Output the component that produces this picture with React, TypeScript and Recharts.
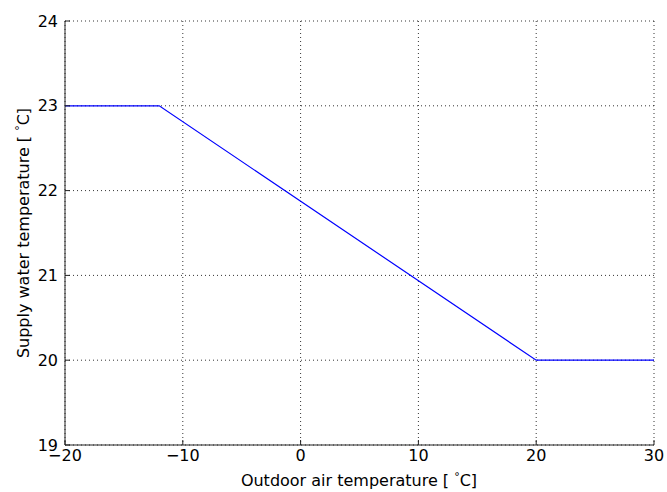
import { CartesianGrid, Label, Line, LineChart, XAxis, YAxis } from 'recharts';

const outdoorTemp = [-20, -12, 20, 30];
const supplyTemp = [23, 23, 20, 20];
const xTicks = [-20, -10, 0, 10, 20, 30];
const yTicks = [19, 20, 21, 22, 23, 24];

const data = outdoorTemp.map((x, i) => ({ x, y: supplyTemp[i] }));

const font = 'DejaVu Sans, sans-serif';
const frame = '#222222';

const DegUnit = () => (
    <>
        <tspan fontSize={11} dy={-6}>°</tspan>
        <tspan dy={6}>C]</tspan>
    </>
);

export default function App() {
    return (
        <div style={{ position: 'absolute', left: 0, top: 0, width: 667, height: 492, background: '#fff' }}>
            <LineChart
                width={667}
                height={492}
                data={data}
                margin={{ top: 21, right: 13, left: 15, bottom: 17 }}
                style={{ fontFamily: font }}
            >
                <CartesianGrid stroke="#000" strokeDasharray="1 3" strokeWidth={0.8} />
                <XAxis
                    dataKey="x"
                    type="number"
                    domain={[-20, 30]}
                    ticks={xTicks}
                    tickFormatter={(v) => String(v).replace('-', '\u2212')}
                    height={30}
                    tickSize={-5}
                    tickMargin={10}
                    stroke={frame}
                    tick={{ fill: '#000', fontSize: 16 }}
                    interval={0}
                >
                    <Label
                        content={() => (
                            <text x={359} y={486} textAnchor="middle" fontSize={16} fill="#000">
                                Outdoor air temperature [ <DegUnit />
                            </text>
                        )}
                    />
                </XAxis>
                <XAxis
                    xAxisId="top"
                    dataKey="x"
                    type="number"
                    orientation="top"
                    domain={[-20, 30]}
                    ticks={xTicks}
                    height={0}
                    tickSize={-5}
                    tick={false}
                    stroke={frame}
                />
                <YAxis
                    type="number"
                    domain={[19, 24]}
                    ticks={yTicks}
                    width={50}
                    tickSize={-5}
                    tickMargin={12}
                    stroke={frame}
                    tick={{ fill: '#000', fontSize: 16 }}
                    interval={0}
                >
                    <Label
                        content={() => (
                            <text
                                x={29}
                                y={233}
                                transform="rotate(-90 29 233)"
                                textAnchor="middle"
                                fontSize={16}
                                fill="#000"
                            >
                                Supply water temperature [ <DegUnit />
                            </text>
                        )}
                    />
                </YAxis>
                <YAxis
                    yAxisId="right"
                    type="number"
                    orientation="right"
                    domain={[19, 24]}
                    ticks={yTicks}
                    width={0}
                    tickSize={-5}
                    tick={false}
                    stroke={frame}
                />
                <Line
                    type="linear"
                    dataKey="y"
                    stroke="#0000ff"
                    strokeWidth={1.2}
                    dot={false}
                    isAnimationActive={false}
                />
            </LineChart>
        </div>
    );
}
